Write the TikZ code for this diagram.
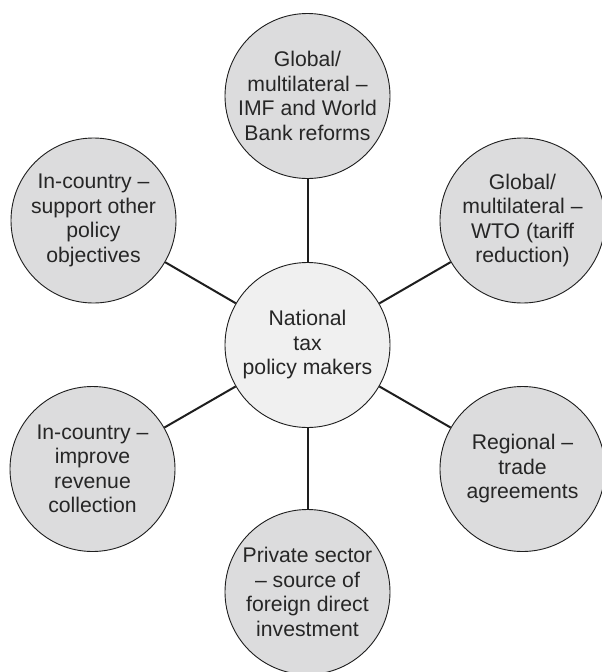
\documentclass[tikz,border=0pt]{standalone}
\usepackage{fontspec}
\setmainfont{Liberation Sans}
\definecolor{outerfill}{HTML}{DCDCDD}
\definecolor{innerfill}{HTML}{F0F0F0}
\definecolor{edgecol}{HTML}{1E1E1E}
\definecolor{txtcol}{HTML}{262626}
\tikzset{
  outer/.style={circle, draw=edgecol, line width=0.9pt, fill=outerfill, minimum size=165pt, inner sep=0pt, align=center, text=txtcol, font=\fontsize{21.2}{24.5}\selectfont},
  inner/.style={circle, draw=edgecol, line width=0.9pt, fill=innerfill, minimum size=165pt, inner sep=0pt, align=center, text=txtcol, font=\fontsize{21.2}{24.5}\selectfont},
  link/.style={draw=edgecol, line width=2pt}
}
\begin{document}
\begin{tikzpicture}[x=1pt,y=-1pt]
\useasboundingbox[fill=white] (0,0) rectangle (602,672);
\node[inner] (c) at (307.5,345) {National\\tax\\policy makers};
\node[outer] (t) at (307.5,96) {Global/\\multilateral --\\IMF and World\\Bank reforms};
\node[outer] (ul) at (93.5,220.5) {In-country --\\support other\\policy\\objectives};
\node[outer] (ur) at (522.5,220.5) {Global/\\multilateral --\\WTO (tariff\\reduction)};
\node[outer] (ll) at (92.5,469) {In-country --\\improve\\revenue\\collection};
\node[outer] (lr) at (522.5,469) {Regional --\\trade\\agreements};
\node[outer] (b) at (307.5,592) {Private sector\\-- source of\\foreign direct\\investment};
\foreach \n in {t,ul,ur,ll,lr,b} \draw[link] (c) -- (\n);
\end{tikzpicture}
\end{document}
